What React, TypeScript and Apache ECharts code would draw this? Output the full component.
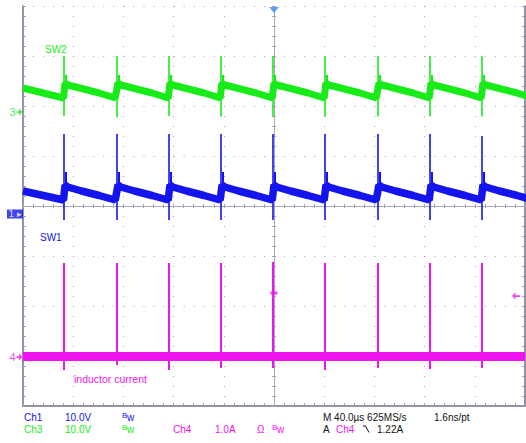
import React, { useEffect, useRef } from 'react';
import * as echarts from 'echarts';

const W = 526;
const H = 443;

// time axis (µs), 40 µs/div, 10 divisions
const timeMinUs = -200;
const timeMaxUs = 200;
const timeDivUs = 40;
// vertical graticule in divisions
const divMin = -4;
const divMax = 4;

// channel ground positions (divisions from centre) and scales
const ch3GroundDiv = 1.88;
const ch3VoltsPerDiv = 10;
const ch1GroundDiv = -0.16;
const ch1VoltsPerDiv = 10;
const ch4GroundDiv = -3.02;
const ch4AmpsPerDiv = 1;

// switching events (µs)
const spikeTimesUs = [-167.3, -125.1, -83.7, -42.2, -0.8, 40.6, 82.9, 124.3, 165.7];

// SW2 (Ch3) in volts
const sw2SpikeTopV = [11.2, 11.2, 11.2, 11.2, 11.2, 11.2, 11.2, 11.2, 11.2];
const sw2SpikeBottomV = [-0.8, -1.1, -0.8, -0.9, -0.9, -0.9, -0.9, -0.9, -0.9];
const sw2RingTopV = [7.4, 7.4, 7.4, 7.4, 7.4, 7.4, 7.4, 7.4, 7.4];
const sw2RingBottomV = [4.4, 4.4, 4.4, 4.4, 4.4, 4.4, 4.4, 4.4, 4.4];
const sw2StartV = 4.8;
const sw2BandV = [5.8, 5.4, 4.7, 3.8, 2.8];

// SW1 (Ch1) in volts
const sw1SpikeTopV = [16.0, 16.0, 16.0, 16.0, 16.0, 16.0, 16.0, 16.0, 15.6];
const sw1SpikeBottomV = [-1.2, -1.2, -1.2, -1.2, -1.2, -1.2, -1.2, -1.2, -1.2];
const sw1RingTopV = [8.4, 8.4, 8.4, 8.4, 8.4, 8.4, 8.4, 8.4, 8.4];
const sw1RingBottomV = [3.6, 3.6, 3.6, 3.6, 3.6, 3.6, 3.6, 3.6, 3.6];
const sw1StartV = 4.6;
const sw1BandV = [5.8, 5.4, 4.6, 3.7, 2.8];

// band sample offsets after each event (µs)
const bandOffsetsUs = [0.8, 3, 14, 28, 40.8];

// inductor current (Ch4) in amps
const ilBaseA = 0.01;
const ilSpikeTopA = [1.88, 1.88, 1.88, 1.88, 1.9, 1.88, 1.88, 1.88, 1.88];
const ilSpikeBottomA = [-0.26, -0.16, -0.26, -0.22, -0.22, -0.26, -0.22, -0.24, -0.22];
const triggerLevelA = 1.22;

const cGreen = '#18ec18';
const cBlue = '#1414ee';
const cMag = '#f014f0';
const dotColor = '#a2a2b4';
const borderColor = '#70708a';
const fontFamily = 'Liberation Sans, Arial, sans-serif';

function bandData(startV: number, levels: number[]) {
  const pts: number[][] = [[timeMinUs, startV], [spikeTimesUs[0] - 0.4, levels[levels.length - 1]]];
  spikeTimesUs.forEach((ts) => {
    bandOffsetsUs.forEach((o, i) => pts.push([ts + o, levels[i]]));
  });
  return pts;
}

function vLines(tops: number[], bottoms: number[], shift: number) {
  return spikeTimesUs.map((t, i) => ({ coords: [[t + shift, tops[i]], [t + shift, bottoms[i]]] }));
}

function chanAxis(ground: number, perDiv: number) {
  return {
    type: 'value',
    min: (divMin - ground) * perDiv,
    max: (divMax - ground) * perDiv,
    show: false,
    splitLine: { show: false },
  };
}

function txt(text: string, x: number, y: number, fill: string, size = 10) {
  return {
    type: 'text',
    x,
    y,
    silent: true,
    z: 10,
    style: { text, fill, fontSize: size, fontFamily, verticalAlign: 'middle', align: 'left' },
  };
}

function bw(x: number, y: number, fill: string) {
  return [txt('B', x, y - 2, fill, 8), txt('w', x + 5, y, fill, 10)];
}

const dotted = { color: dotColor, width: 1, type: [1, 1] };

const option: any = {
  animation: false,
  backgroundColor: '#ffffff',
  textStyle: { fontFamily },
  grid: { left: 23, right: 1, top: 6, bottom: 37, containLabel: false },
  xAxis: [
    {
      type: 'value', min: timeMinUs, max: timeMaxUs, interval: timeDivUs, position: 'bottom',
      axisLine: { show: true, onZero: true, onZeroAxisIndex: 0, lineStyle: dotted },
      axisTick: { show: true, length: 2, lineStyle: { color: dotColor } },
      minorTick: { show: true, splitNumber: 5, length: 2, lineStyle: { color: dotColor } },
      axisLabel: { show: false },
      splitLine: { show: true, lineStyle: { color: dotColor, width: 1, type: [1, 9] } },
    },
    {
      type: 'value', min: timeMinUs, max: timeMaxUs, interval: timeDivUs, position: 'bottom',
      axisLine: { show: true, onZero: false, lineStyle: { color: borderColor, width: 1.5 } },
      axisTick: { show: true, inside: true, length: 3, lineStyle: { color: dotColor } },
      minorTick: { show: true, splitNumber: 5, length: 3, lineStyle: { color: dotColor } },
      axisLabel: { show: false },
      splitLine: { show: false },
    },
    {
      type: 'value', min: timeMinUs, max: timeMaxUs, interval: timeDivUs, position: 'top',
      axisLine: { show: true, onZero: true, onZeroAxisIndex: 0, lineStyle: dotted },
      axisTick: { show: true, length: 2, lineStyle: { color: dotColor } },
      minorTick: { show: true, splitNumber: 5, length: 2, lineStyle: { color: dotColor } },
      axisLabel: { show: false },
      splitLine: { show: false },
    },
  ],
  yAxis: [
    {
      type: 'value', min: divMin, max: divMax, interval: 1, position: 'left',
      axisLine: { show: true, onZero: true, onZeroAxisIndex: 0, lineStyle: dotted },
      axisTick: { show: true, length: 2, lineStyle: { color: dotColor } },
      minorTick: { show: true, splitNumber: 5, length: 2, lineStyle: { color: dotColor } },
      axisLabel: { show: false },
      splitLine: { show: true, lineStyle: { color: dotColor, width: 1, type: [1, 9.04] } },
    },
    {
      type: 'value', min: divMin, max: divMax, interval: 1, position: 'left',
      axisLine: { show: true, onZero: false, lineStyle: { color: borderColor, width: 1.5 } },
      axisTick: { show: true, inside: true, length: 3, lineStyle: { color: dotColor } },
      minorTick: { show: true, splitNumber: 5, length: 3, lineStyle: { color: dotColor } },
      axisLabel: { show: false },
      splitLine: { show: false },
    },
    {
      type: 'value', min: divMin, max: divMax, interval: 1, position: 'right',
      axisLine: { show: true, onZero: false, lineStyle: { color: borderColor, width: 1.5 } },
      axisTick: { show: true, inside: true, length: 3, lineStyle: { color: dotColor } },
      minorTick: { show: true, splitNumber: 5, length: 3, lineStyle: { color: dotColor } },
      axisLabel: { show: false },
      splitLine: { show: false },
    },
    {
      type: 'value', min: divMin, max: divMax, interval: 1, position: 'right',
      axisLine: { show: true, onZero: true, onZeroAxisIndex: 0, lineStyle: dotted },
      axisTick: { show: true, length: 2, lineStyle: { color: dotColor } },
      minorTick: { show: true, splitNumber: 5, length: 2, lineStyle: { color: dotColor } },
      axisLabel: { show: false },
      splitLine: { show: false },
    },
    chanAxis(ch3GroundDiv, ch3VoltsPerDiv),
    chanAxis(ch1GroundDiv, ch1VoltsPerDiv),
    chanAxis(ch4GroundDiv, ch4AmpsPerDiv),
  ],
  series: [
    // SW2 / Ch3
    {
      type: 'line', xAxisIndex: 0, yAxisIndex: 4, data: bandData(sw2StartV, sw2BandV),
      showSymbol: false, symbol: 'none', silent: true, z: 3,
      lineStyle: { color: cGreen, width: 7 }, itemStyle: { color: cGreen },
    },
    {
      type: 'lines', coordinateSystem: 'cartesian2d', xAxisIndex: 0, yAxisIndex: 4, silent: true, z: 4,
      data: vLines(sw2SpikeTopV, sw2SpikeBottomV, 0),
      lineStyle: { color: cGreen, width: 1.6, opacity: 1, curveness: 0 },
    },
    {
      type: 'lines', coordinateSystem: 'cartesian2d', xAxisIndex: 0, yAxisIndex: 4, silent: true, z: 4,
      data: vLines(sw2RingTopV, sw2RingBottomV, 1.2),
      lineStyle: { color: cGreen, width: 2, opacity: 1, curveness: 0 },
    },
    // SW1 / Ch1
    {
      type: 'line', xAxisIndex: 0, yAxisIndex: 5, data: bandData(sw1StartV, sw1BandV),
      showSymbol: false, symbol: 'none', silent: true, z: 3,
      lineStyle: { color: cBlue, width: 7.5 }, itemStyle: { color: cBlue },
    },
    {
      type: 'lines', coordinateSystem: 'cartesian2d', xAxisIndex: 0, yAxisIndex: 5, silent: true, z: 4,
      data: vLines(sw1SpikeTopV, sw1SpikeBottomV, 0),
      lineStyle: { color: cBlue, width: 1.6, opacity: 1, curveness: 0 },
    },
    {
      type: 'lines', coordinateSystem: 'cartesian2d', xAxisIndex: 0, yAxisIndex: 5, silent: true, z: 4,
      data: vLines(sw1RingTopV, sw1RingBottomV, 1.2),
      lineStyle: { color: cBlue, width: 2, opacity: 1, curveness: 0 },
    },
    // inductor current / Ch4
    {
      type: 'line', xAxisIndex: 0, yAxisIndex: 6, data: [[timeMinUs, ilBaseA], [timeMaxUs, ilBaseA]],
      showSymbol: false, symbol: 'none', silent: true, z: 3,
      lineStyle: { color: cMag, width: 9 }, itemStyle: { color: cMag },
    },
    {
      type: 'lines', coordinateSystem: 'cartesian2d', xAxisIndex: 0, yAxisIndex: 6, silent: true, z: 4,
      data: vLines(ilSpikeTopA, ilSpikeBottomA, 0),
      lineStyle: { color: cMag, width: 2, opacity: 1, curveness: 0 },
    },
    // channel ground markers
    {
      type: 'scatter', xAxisIndex: 0, yAxisIndex: 4, data: [[timeMinUs, 0]], clip: false, silent: true, z: 6,
      symbol: 'path://M0,3 L3,3 L3,0 L7,4 L3,8 L3,5 L0,5 Z', symbolSize: [6, 7], symbolOffset: [-3.5, 0],
      itemStyle: { color: cGreen },
      label: { show: true, position: 'left', distance: 1, formatter: '3', color: cGreen, fontSize: 11, fontFamily },
    },
    {
      type: 'scatter', xAxisIndex: 0, yAxisIndex: 5, data: [[timeMinUs, 0]], clip: false, silent: true, z: 6,
      symbol: 'rect', symbolSize: [16, 9], symbolOffset: [-8, 0],
      itemStyle: { color: cBlue },
      label: { show: true, position: 'inside', formatter: '1 \u25B8', color: '#ffffff', fontSize: 9, fontFamily: 'DejaVu Sans' },
    },
    {
      type: 'scatter', xAxisIndex: 0, yAxisIndex: 6, data: [[timeMinUs, 0]], clip: false, silent: true, z: 6,
      symbol: 'path://M0,3 L3,3 L3,0 L7,4 L3,8 L3,5 L0,5 Z', symbolSize: [6, 7], symbolOffset: [-3.5, 0],
      itemStyle: { color: cMag },
      label: { show: true, position: 'left', distance: 1, formatter: '4', color: cMag, fontSize: 11, fontFamily },
    },
    // trigger position (top) and trigger level (right)
    {
      type: 'scatter', xAxisIndex: 0, yAxisIndex: 0, data: [[0, divMax]], clip: false, silent: true, z: 6,
      symbol: 'path://M0,0 L10,0 L5,6 Z', symbolSize: [10, 6], symbolOffset: [0, 4],
      itemStyle: { color: '#3d8cf0' },
    },
    {
      type: 'scatter', xAxisIndex: 0, yAxisIndex: 6, data: [[timeMaxUs, triggerLevelA]], clip: false, silent: true, z: 6,
      symbol: 'path://M0,4 L4,0 L4,3 L9,3 L9,5 L4,5 L4,8 Z', symbolSize: [8, 7], symbolOffset: [-9, 0],
      itemStyle: { color: cMag },
    },
    {
      type: 'scatter', xAxisIndex: 0, yAxisIndex: 6, data: [[0, 1.28]], clip: false, silent: true, z: 6,
      symbol: 'rect', symbolSize: [7, 3],
      itemStyle: { color: cMag },
    },
  ],
  graphic: [
    txt('SW2', 45, 49, cGreen),
    txt('SW1', 40, 237, cBlue),
    txt('inductor current', 74, 379, cMag, 10.5),
    txt('Ch1', 24, 417, cBlue),
    txt('10.0V', 65, 417, cBlue),
    ...bw(122, 417, cBlue),
    txt('M 40.0\u00B5s 625MS/s', 323, 417, '#111111'),
    txt('1.6ns/pt', 434, 417, '#111111'),
    txt('Ch3', 24, 429, cGreen),
    txt('10.0V', 65, 429, cGreen),
    ...bw(122, 429, cGreen),
    txt('Ch4', 173, 429, cMag),
    txt('1.0A', 215, 429, cMag),
    txt('\u03A9', 257, 429, cMag),
    ...bw(272, 429, cMag),
    txt('A', 323, 429, '#111111'),
    txt('Ch4', 336, 429, cMag),
    {
      type: 'polyline', silent: true, z: 10,
      shape: { points: [[363, 426], [365.5, 426], [369, 432.5]] },
      style: { stroke: '#111111', lineWidth: 1, fill: null },
    },
    txt('1.22A', 377, 429, '#111111'),
  ],
};

export default function App() {
  const ref = useRef<HTMLDivElement>(null);
  useEffect(() => {
    if (!ref.current) return;
    const chart = echarts.init(ref.current, null, { renderer: 'svg', width: W, height: H });
    chart.setOption(option);
    return () => chart.dispose();
  }, []);
  return (
    <div
      ref={ref}
      style={{ position: 'absolute', left: 0, top: 0, width: W, height: H, background: '#ffffff' }}
    />
  );
}
